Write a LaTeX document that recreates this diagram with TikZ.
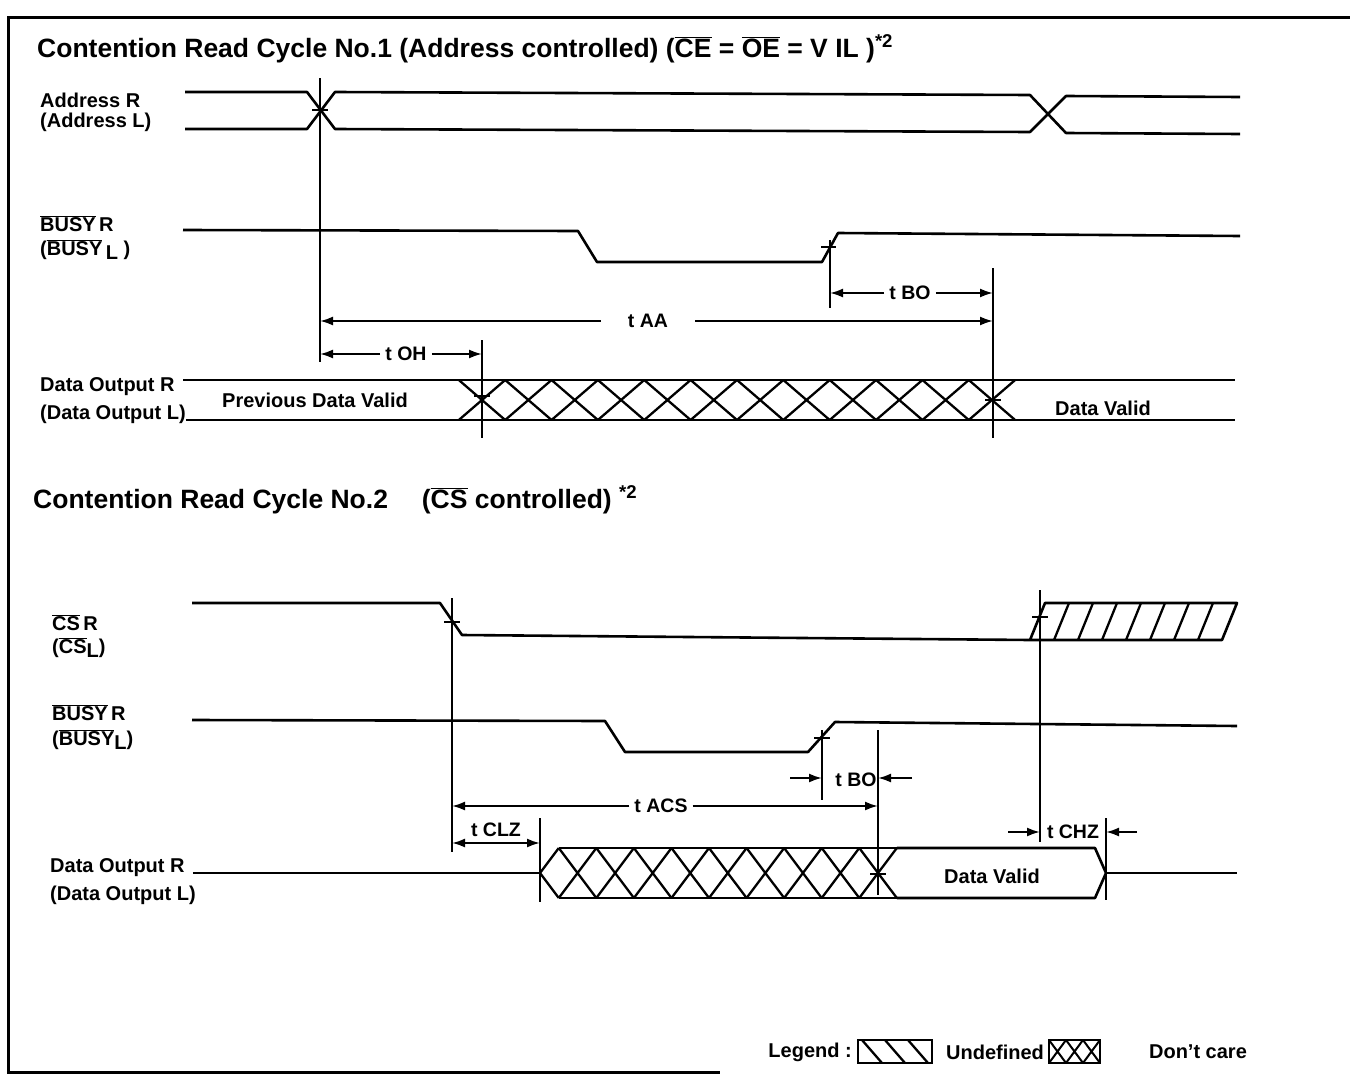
\documentclass[tikz,border=0pt]{standalone}
\usepackage{fontspec}
\setmainfont{Liberation Sans}
\usetikzlibrary{arrows.meta}
\newcommand\ovl[1]{\ensuremath{\overline{\mbox{#1}}}}
\newcommand\lowr[1]{\raisebox{-0.35ex}{#1}}
\tikzset{
  sig/.style={line width=2.6pt, line join=round},
  guide/.style={line width=2pt},
  dimarrow/.style={line width=2pt, -{Latex[length=13pt,width=9pt]}},
  ticky/.style={line width=2.6pt},
  lbl/.style={font=\bfseries\fontsize{20}{22}\selectfont, inner sep=0pt},
  tlbl/.style={font=\bfseries\fontsize{19.5}{21}\selectfont, inner ysep=0pt, inner xsep=5pt},
  ttl/.style={font=\bfseries\fontsize{26.5}{30}\selectfont, inner sep=0pt, anchor=base west},
  frame/.style={line width=3pt},
  hatch/.style={line width=2.3pt},
}
\begin{document}
\begin{tikzpicture}[x=1pt,y=-1pt]
\useasboundingbox (0,0) rectangle (1350,1076);
% frame
\draw[frame] (1350,17) -- (8,17) -- (8,1072) -- (720,1072);

% titles
\node[ttl] (title1) at (37,57) {Contention Read Cycle No.1 (Address controlled) (\ovl{CE} = \ovl{OE} = V IL )\textsuperscript{*2}};
\node[ttl] (title2) at (33,508) {Contention Read Cycle No.2\quad\ (\ovl{CS} controlled) \textsuperscript{*2}};

% ---------- Cycle 1 labels
\node[lbl, anchor=west] (addrR) at (40,100) {Address R};
\node[lbl, anchor=west] (addrL) at (40,122) {(Address L)};
\node[lbl, anchor=west] (busyR1) at (40,224) {\ovl{BUSY}\,R};
\node[lbl, anchor=west] (busyL1) at (40,250) {(\ovl{BUSY}\,\lowr{L} )};
\node[lbl, anchor=west] (doutR1) at (40,387) {Data Output R};
\node[lbl, anchor=west] (doutL1) at (40,414) {(Data Output L)};

% guide coordinates
\coordinate (VA) at (320,0);
\coordinate (VB) at (482,0);
\coordinate (VC) at (830,0);
\coordinate (VD) at (993,0);

% address
\draw[sig] (185,92) -- (307,92) -- (335,129) -- (1030,132) -- (1066,96) -- (1240,97);
\draw[sig] (185,129) -- (307,129) -- (335,92) -- (1030,95) -- (1066,133) -- (1240,134);
% busy 1
\draw[sig] (183,230) -- (578,231) -- (597,262) -- (822,262) -- (838,233) -- (1240,236);
% data output 1
\draw[sig] (183,380) -- (458.8,380);
\draw[sig] (doutL1.east) ++(0,6) -- (458.8,420);
\foreach \k in {0,...,11} {
  \pgfmathsetmacro\c{482+\k*46.36}
  \draw[hatch] (\c-23.18,380) -- (\c+23.18,420) (\c-23.18,420) -- (\c+23.18,380);
}
\draw[sig] (458.8,380) -- (1015.2,380);
\draw[sig] (458.8,420) -- (1015.2,420);
\draw[sig] (1015.2,380) -- (1235,380);
\draw[sig] (1015.2,420) -- (1235,420);
\node[lbl] (prev) at (315,400) {Previous Data Valid};
\node[lbl] (dv1) at (1103,408) {Data Valid};

% guides cycle 1
\draw[guide] (320,78) -- (320,362);
\draw[guide] (482,340) -- (482,438);
\draw[guide] (830,240) -- (830,308);
\draw[guide] (993,268) -- (993,438);
% ticks
\draw[ticky] (312,110) -- (328,110);
\draw[ticky] (821,247) -- (836,247);
\draw[ticky] (474,396) -- (490,396);
\draw[ticky] (985,400) -- (1001,400);

% dimensions cycle 1
\node[tlbl] (tbo1) at (910,293) {t BO};
\draw[dimarrow] (tbo1.west) -- (tbo1.west -| VC);
\draw[dimarrow] (tbo1.east) -- (tbo1.east -| VD);
\node[tlbl, inner xsep=27pt] (taa) at (648,321) {t AA};
\draw[dimarrow] (taa.west) -- (taa.west -| VA);
\draw[dimarrow] (taa.east) -- (taa.east -| VD);
\node[tlbl] (toh) at (406,354) {t OH};
\draw[dimarrow] (toh.west) -- (toh.west -| VA);
\draw[dimarrow] (toh.east) -- (toh.east -| VB);

% ---------- Cycle 2 labels
\node[lbl, anchor=west] (csR) at (52,623) {\ovl{CS}\,R};
\node[lbl, anchor=west] (csL) at (52,648) {(\ovl{CS}\lowr{L})};
\node[lbl, anchor=west] (busyR2) at (52,713) {\ovl{BUSY}\,R};
\node[lbl, anchor=west] (busyL2) at (52,740) {(\ovl{BUSY}\lowr{L})};
\node[lbl, anchor=west] (doutR2) at (50,868) {Data Output R};
\node[lbl, anchor=west] (doutL2) at (50,895) {(Data Output L)};

\coordinate (WA) at (452,0);
\coordinate (WB) at (540,0);
\coordinate (WC) at (822,0);
\coordinate (WD) at (878,0);
\coordinate (WE) at (1040,0);
\coordinate (WF) at (1106,0);

% CS
\draw[sig] (192,603) -- (440,603) -- (462,635) -- (1030,640) -- (1045,603) -- (1237,603) -- (1222,640) -- (1030,640);
\foreach \k in {1,...,7} {
  \draw[hatch] (1030+\k*24,640) -- (1045+\k*24,603);
}
% busy 2
\draw[sig] (192,720) -- (605,721) -- (625,752) -- (808,752) -- (835,722) -- (1237,726);
% data output 2
\draw[sig] (doutR2.east) ++(8,5) -- (540,873);
\draw[hatch] (558.78,848) -- (540,873) -- (558.78,898);
\foreach \k in {1,...,9} {
  \pgfmathsetmacro\c{540+\k*37.56}
  \draw[hatch] (\c-18.78,848) -- (\c+18.78,898) (\c-18.78,898) -- (\c+18.78,848);
}
\draw[sig] (558.78,848) -- (896.78,848);
\draw[sig] (558.78,898) -- (896.78,898);
\draw[sig] (896.78,848) -- (1095,848) -- (1106,873) -- (1095,898) -- (896.78,898);
\draw[sig] (1106,873) -- (1237,873);
\node[lbl] (dv2) at (992,876) {Data Valid};

% guides cycle 2
\draw[guide] (452,598) -- (452,852);
\draw[guide] (540,818) -- (540,902);
\draw[guide] (822,730) -- (822,800);
\draw[guide] (878,730) -- (878,895);
\draw[guide] (1040,590) -- (1040,842);
\draw[guide] (1106,818) -- (1106,900);
% ticks
\draw[ticky] (444,622) -- (460,622);
\draw[ticky] (1032,617) -- (1048,617);
\draw[ticky] (814,738) -- (830,738);
\draw[ticky] (870,874) -- (886,874);

% dimensions cycle 2
\node[tlbl] (tacs) at (661,806) {t ACS};
\draw[dimarrow] (tacs.west) -- (tacs.west -| WA);
\draw[dimarrow] (tacs.east) -- (tacs.east -| WD);
\node[tlbl] (tclz) at (496,830) {t CLZ};
\coordinate (clzl) at (452,843);
\draw[line width=2pt, {Latex[length=13pt,width=9pt]}-{Latex[length=13pt,width=9pt]}] (clzl) -- (clzl -| WB);
\node[tlbl, inner xsep=2pt] (tbo2) at (856,780) {t BO};
\coordinate (bo2l) at (790,778);
\coordinate (bo2r) at (912,778);
\draw[dimarrow] (bo2l) -- (bo2l -| WC);
\draw[dimarrow] (bo2r) -- (bo2r -| WD);
\node[tlbl, inner xsep=2pt] (tchz) at (1073,832) {t CHZ};
\coordinate (chzl) at (1008,832);
\coordinate (chzr) at (1137,832);
\draw[dimarrow] (chzl) -- (chzl -| WE);
\draw[dimarrow] (chzr) -- (chzr -| WF);

% ---------- legend
\node[lbl, anchor=east] (leg) at (852,1052) {Legend :};
\draw[line width=2.4pt] (858,1040) rectangle (932,1063);
\foreach \x in {862,885,908} {
  \draw[hatch] (\x,1040) -- (\x+20,1063);
}
\node[lbl] (undef) at (995,1052) {Undefined};
\draw[line width=2.4pt] (1049,1040) rectangle (1100,1063);
\foreach \k in {0,1,2} {
  \pgfmathsetmacro\c{1057.5+\k*17}
  \draw[line width=2pt] (\c-8.5,1040) -- (\c+8.5,1063) (\c-8.5,1063) -- (\c+8.5,1040);
}
\node[lbl] (dcare) at (1198,1052) {Don't care};
\end{tikzpicture}
\end{document}
